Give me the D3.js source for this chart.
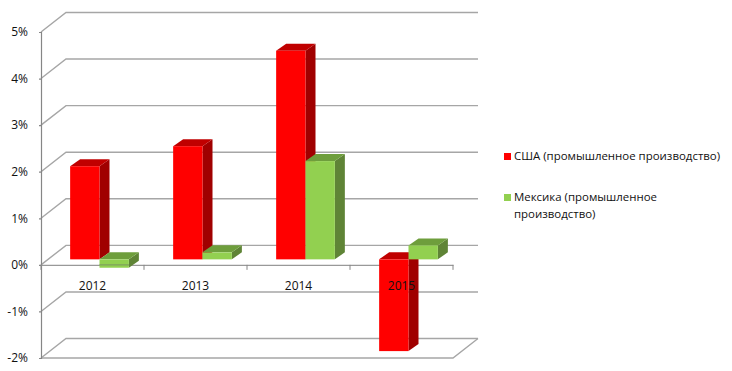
<!DOCTYPE html>
<html>

<head>
    <meta charset="utf-8">
    <title>США и Мексика</title>
    <script src="https://cdn.jsdelivr.net/npm/d3@7"></script>
    <style>
        body { margin: 0; background: #fff; }
        text { font-family: "Open Sans", sans-serif; fill: #111; }
    </style>
</head>

<body>
    <script>
        // values, in percent
        var years = ['2012', '2013', '2014', '2015']
        var usa = [2.0, 2.43, 4.48, -1.97]
        var mexico = [-0.18, 0.15, 2.11, 0.3]
        var yTicks = [5, 4, 3, 2, 1, 0, -1, -2]
        var seriesNames = ['usa', 'mexico']
        var legendLines = [
            ['США (промышленное производство)'],
            ['Мексика (промышленное', 'производство)']
        ]

        var width = 732, height = 371
        var left = 41, right = 453, top_ = 32, bottom = 358
        // depth of the 3d box and of the bars in it
        var wallDx = 25, wallDy = -19.5
        var barShiftX = 7, barShiftY = -5.5
        var barDx = 10, barDy = -7

        var colors = {
            usa: { front: '#ff0000', top: '#c00000', side: '#a00000' },
            mexico: { front: '#92d050', top: '#6e9e3c', side: '#5f8436' }
        }

        var svg = d3.select('body').append('svg')
            .attr('width', width)
            .attr('height', height)

        var y = d3.scaleLinear().domain([-2, 5]).range([bottom, top_])
        var x = d3.scaleBand().domain(years).range([left, right]).paddingInner(0.43).paddingOuter(0.215)
        var xInner = d3.scaleBand().domain(seriesNames).range([0, x.bandwidth()])
        var xBoundary = d3.scaleLinear().domain([0, years.length]).range([left, right])

        // back wall and side wall lines
        var grid = svg.append('g').attr('fill', 'none')
        yTicks.forEach(function (t) {
            grid.append('path')
                .attr('d', 'M' + left + ',' + y(t) + 'L' + (left + wallDx) + ',' + (y(t) + wallDy) + 'H' + (right + wallDx))
                .attr('stroke', '#a6a6a6')
                .attr('stroke-width', 1.4)
        })
        // floor
        grid.append('path')
            .attr('d', 'M' + left + ',' + y(-2) + 'H' + right + 'L' + (right + wallDx) + ',' + (y(-2) + wallDy))
            .attr('stroke', '#a6a6a6')
            .attr('stroke-width', 1.4)

        // y axis
        var yAxis = svg.append('g')
            .attr('transform', 'translate(' + left + ',0)')
            .call(d3.axisLeft(y).tickValues(yTicks).tickSize(2).tickPadding(11).tickFormat(function (d) { return d + '%' }))
        yAxis.selectAll('line,path').attr('stroke', '#868686').attr('stroke-width', 1.2)
        yAxis.selectAll('text').attr('font-size', 12).style('font-family', '"Open Sans", sans-serif')

        // x axis sits on the 0% line, bars cover it
        var xLine = svg.append('g')
            .attr('transform', 'translate(0,' + y(0) + ')')
            .call(d3.axisBottom(x).tickSize(0).tickFormat(''))
        xLine.select('.domain').attr('stroke', '#999').attr('stroke-width', 1.4)
        d3.range(years.length + 1).forEach(function (i) {
            xLine.append('line')
                .attr('x1', xBoundary(i)).attr('x2', xBoundary(i))
                .attr('y1', 0).attr('y2', 5)
                .attr('stroke', '#868686')
        })

        function drawBar(g, name, year, value) {
            var x0 = x(year) + xInner(name) + barShiftX
            var x1 = x0 + xInner.bandwidth()
            var yTop = Math.min(y(value), y(0)) + barShiftY
            var yBottom = Math.max(y(value), y(0)) + barShiftY
            var c = colors[name]

            g.append('path')
                .attr('d', 'M' + x1 + ',' + yTop + 'l' + barDx + ',' + barDy + 'V' + (yBottom + barDy) + 'l' + (-barDx) + ',' + (-barDy) + 'Z')
                .attr('fill', c.side)
            g.append('path')
                .attr('d', 'M' + x0 + ',' + yTop + 'l' + barDx + ',' + barDy + 'H' + (x1 + barDx) + 'l' + (-barDx) + ',' + (-barDy) + 'Z')
                .attr('fill', c.top)
            g.append('rect')
                .attr('x', x0).attr('y', yTop)
                .attr('width', x1 - x0).attr('height', yBottom - yTop)
                .attr('fill', c.front)
        }

        var bars = svg.append('g')
        years.forEach(function (year, i) {
            drawBar(bars, 'usa', year, usa[i])
            drawBar(bars, 'mexico', year, mexico[i])
        })

        // the axis shows faintly through the small green bar of 2012
        bars.append('line')
            .attr('x1', x('2012') + xInner('mexico') + barShiftX)
            .attr('x2', x('2012') + xInner('mexico') + barShiftX + xInner.bandwidth())
            .attr('y1', y(0)).attr('y2', y(0))
            .attr('stroke', '#7f9f5f')
            .attr('stroke-width', 1.2)

        // labels go over the bars, the 2015 one stays readable on the red
        var xLabels = svg.append('g')
            .attr('transform', 'translate(0,' + y(0) + ')')
            .call(d3.axisBottom(x).tickSize(0).tickPadding(17))
        xLabels.select('.domain').remove()
        xLabels.selectAll('text').attr('font-size', 12).style('font-family', '"Open Sans", sans-serif')

        // legend
        var legendY = [160, 201]
        var legend = svg.append('g')
        legendLines.forEach(function (lines, i) {
            legend.append('rect')
                .attr('x', 504).attr('y', legendY[i] - 7)
                .attr('width', 7).attr('height', 7)
                .attr('fill', colors[seriesNames[i]].front)
            lines.forEach(function (line, j) {
                legend.append('text')
                    .attr('x', 514)
                    .attr('y', legendY[i] + j * 16.5)
                    .attr('font-size', 11.45)
                    .text(line)
            })
        })
    </script>
</body>

</html>
